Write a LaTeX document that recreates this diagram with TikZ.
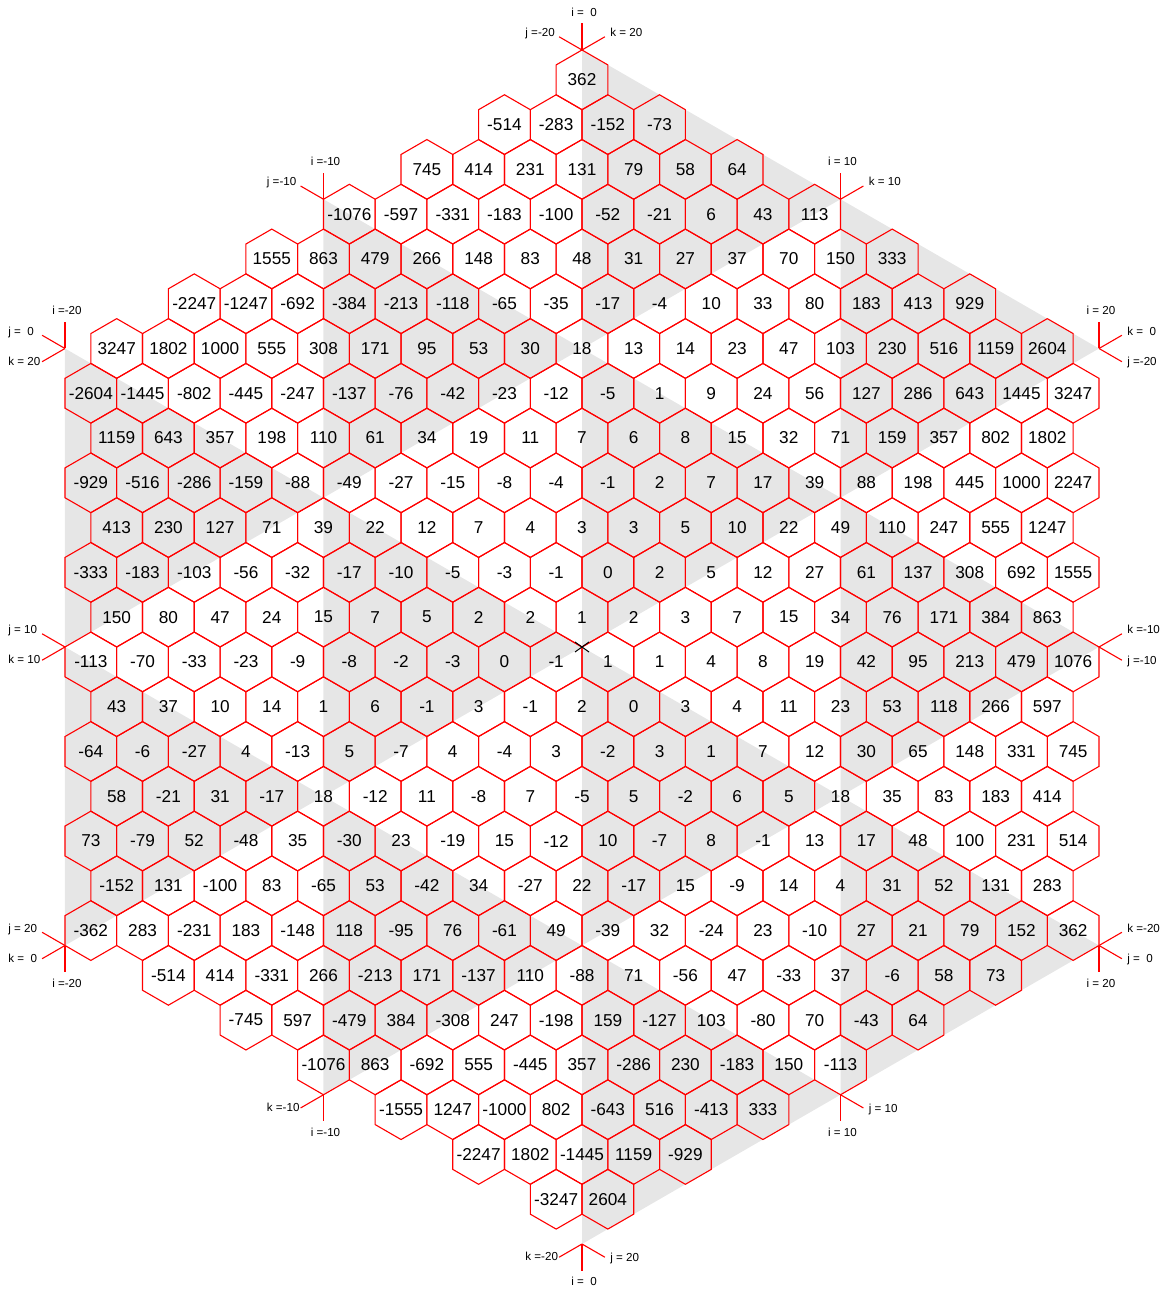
\documentclass[tikz,border=0pt]{standalone}
\usepackage{fontspec}
\setmainfont{Liberation Sans}
\usetikzlibrary{calc}
\definecolor{HexRed}{HTML}{FF0000}
\definecolor{Shade}{HTML}{E6E6E6}
\definecolor{Ink}{HTML}{000000}
\newcommand{\hexr}{29.85}
\newcommand{\hexa}{25.85}
\tikzset{
  hexcell/.style={draw=HexRed,line width=0.55pt,line join=miter},
  numlabel/.style={font=\fontsize{8.6}{10}\selectfont,text=Ink,inner sep=0pt},
  axisline/.style={draw=HexRed,line width=0.55pt},
  axislabel/.style={font=\fontsize{5.8}{7}\selectfont,text=Ink,inner sep=0pt},
  shadetri/.style={fill=Shade,draw=none},
  centremark/.style={draw=Ink,line width=0.5pt},
  lblup/.style={anchor=base,xshift=1pt,yshift=3.5pt},
  lbldn/.style={anchor=base,xshift=1pt,yshift=-7.5pt},
  lblul/.style={anchor=base west,xshift=-17pt},
  lbldl/.style={anchor=base west,xshift=-17pt,yshift=-1.75pt},
  lblur/.style={anchor=base west,xshift=2.5pt},
  lbldr/.style={anchor=base west,xshift=2.5pt,yshift=-2pt}
}

\begin{document}
\begin{tikzpicture}[x=0.5pt,y=0.5pt]
  \useasboundingbox (-582,-642) rectangle (582,647);
  % grey triangles of the lattice
  \foreach \u/\v in {-2/0,-2/-2,-1/1,-1/-1,-1/-3,0/2,0/0,0/-2,0/-4,1/1,1/-1,1/-3}
    \fill[shadetri] (\u*258.5,\v*149.25) -- (\u*258.5,\v*149.25+298.5)
      -- (\u*258.5+258.5,\v*149.25+149.25) -- cycle;
  % cells
  \foreach \row/\first/\vals in {
    0/0/{362},
    1/-3/{-514,-283,-152,-73},
    2/-6/{745,414,231,131,79,58,64},
    3/-9/{-1076,-597,-331,-183,-100,-52,-21,6,43,113},
    4/-12/{1555,863,479,266,148,83,48,31,27,37,70,150,333},
    5/-15/{-2247,-1247,-692,-384,-213,-118,-65,-35,-17,-4,10,33,80,183,413,929},
    6/-18/{3247,1802,1000,555,308,171,95,53,30,18,13,14,23,47,103,230,516,1159,2604},
    7/-19/{-2604,-1445,-802,-445,-247,-137,-76,-42,-23,-12,-5,1,9,24,56,127,286,643,1445,3247},
    8/-18/{1159,643,357,198,110,61,34,19,11,7,6,8,15,32,71,159,357,802,1802},
    9/-19/{-929,-516,-286,-159,-88,-49,-27,-15,-8,-4,-1,2,7,17,39,88,198,445,1000,2247},
    10/-18/{413,230,127,71,39,22,12,7,4,3,3,5,10,22,49,110,247,555,1247},
    11/-19/{-333,-183,-103,-56,-32,-17,-10,-5,-3,-1,0,2,5,12,27,61,137,308,692,1555},
    12/-18/{150,80,47,24,15,7,5,2,2,1,2,3,7,15,34,76,171,384,863},
    13/-19/{-113,-70,-33,-23,-9,-8,-2,-3,0,-1,1,1,4,8,19,42,95,213,479,1076},
    14/-18/{43,37,10,14,1,6,-1,3,-1,2,0,3,4,11,23,53,118,266,597},
    15/-19/{-64,-6,-27,4,-13,5,-7,4,-4,3,-2,3,1,7,12,30,65,148,331,745},
    16/-18/{58,-21,31,-17,18,-12,11,-8,7,-5,5,-2,6,5,18,35,83,183,414},
    17/-19/{73,-79,52,-48,35,-30,23,-19,15,-12,10,-7,8,-1,13,17,48,100,231,514},
    18/-18/{-152,131,-100,83,-65,53,-42,34,-27,22,-17,15,-9,14,4,31,52,131,283},
    19/-19/{-362,283,-231,183,-148,118,-95,76,-61,49,-39,32,-24,23,-10,27,21,79,152,362},
    20/-16/{-514,414,-331,266,-213,171,-137,110,-88,71,-56,47,-33,37,-6,58,73},
    21/-13/{-745,597,-479,384,-308,247,-198,159,-127,103,-80,70,-43,64},
    22/-10/{-1076,863,-692,555,-445,357,-286,230,-183,150,-113},
    23/-7/{-1555,1247,-1000,802,-643,516,-413,333},
    24/-4/{-2247,1802,-1445,1159,-929},
    25/-1/{-3247,2604}}{
    \foreach \val [count=\n from 0] in \vals {
      \pgfmathsetmacro{\cx}{(\first+2*\n)*\hexa}
      \pgfmathsetmacro{\cy}{(19-1.5*\row)*\hexr}
      \node[numlabel] (c\row-\n) at (\cx,\cy) {\val};
      \draw[hexcell] (c\row-\n.center) ++(90:\hexr) -- ++(-30:\hexr) -- ++(-90:\hexr)
        -- ++(-150:\hexr) -- ++(150:\hexr) -- ++(90:\hexr) -- cycle;
    }
  }
  % axis ticks round the border
  \foreach \u/\v/\ang/\sty/\txt [count=\k] in {
    0/4/90/lblup/{i =\ \ 0}, 0/4/150/lblul/{j =-20}, 0/4/30/lblur/{k = 20},
    -1/3/90/lblup/{i =-10}, -1/3/150/lblul/{j =-10},
    1/3/90/lblup/{i = 10}, 1/3/30/lblur/{k = 10},
    -2/2/90/lblup/{i =-20}, -2/2/150/lblul/{j =\ \ 0}, -2/2/210/lbldl/{k = 20},
    2/2/90/lblup/{i = 20}, 2/2/30/lblur/{k =\ \ 0}, 2/2/-30/lbldr/{j =-20},
    -2/0/150/lblul/{j = 10}, -2/0/210/lbldl/{k = 10},
    2/0/30/lblur/{k =-10}, 2/0/-30/lbldr/{j =-10},
    -2/-2/150/lblul/{j = 20}, -2/-2/210/lbldl/{k =\ \ 0}, -2/-2/-90/lbldn/{i =-20},
    2/-2/30/lblur/{k =-20}, 2/-2/-30/lbldr/{j =\ \ 0}, 2/-2/-90/lbldn/{i = 20},
    -1/-3/210/lbldl/{k =-10}, -1/-3/-90/lbldn/{i =-10},
    1/-3/-30/lbldr/{j = 10}, 1/-3/-90/lbldn/{i = 10},
    0/-4/210/lbldl/{k =-20}, 0/-4/-30/lbldr/{j = 20}, 0/-4/-90/lbldn/{i =\ \ 0}}{
    \coordinate (a\k) at (\u*258.5,\v*149.25);
    \draw[axisline] (a\k) -- ++(\ang:26.5) coordinate (e\k);
    \node[axislabel,\sty] (t\k) at (e\k) {\txt};
  }
  % centre
  \coordinate (origin) at (0,0);
  \draw[centremark] ($(origin)+(-7,-5)$) -- ($(origin)+(7,5)$)
    ($(origin)+(-7,5)$) -- ($(origin)+(7,-5)$);
\end{tikzpicture}
\end{document}
